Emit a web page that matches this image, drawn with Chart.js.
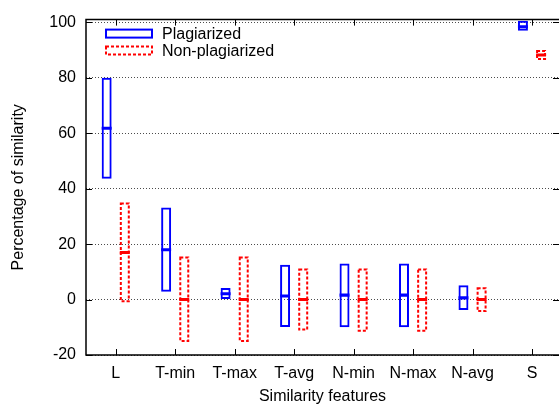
<!DOCTYPE html>
<html lang="en">
  <head>
    <meta charset="UTF-8" />
    <script src="https://cdn.jsdelivr.net/npm/chart.js@4.4.1/dist/chart.umd.min.js"></script>
    <title>Similarity features</title>
    <style>
      body { margin: 0; background: #fff; }
      #wrap { width: 559px; height: 408px; }
    </style>
  </head>
  <body>
    <div id="wrap"><canvas id="myChart"></canvas></div>

    <script>
      const features = ["L", "T-min", "T-max", "T-avg", "N-min", "N-max", "N-avg", "S"];
      const yTicks = [-20, 0, 20, 40, 60, 80, 100];

      // Plagiarized: box bottom, box top, median
      const plagLow = [43.6, 2.8, 0, -9.9, -10, -10, -3.8, 97];
      const plagHigh = [80, 33.2, 4.2, 12.6, 13, 13, 5.2, 100.6];
      const plagMed = [61.8, 18, 2.1, 1.3, 1.6, 1.6, 0.6, 98.4];

      // Non-plagiarized
      const nonLow = [-1, -15.3, -15.3, -11.2, -11.6, -11.6, -4.5, 86.4];
      const nonHigh = [35, 15.5, 15.5, 11.2, 11.2, 11.2, 4.4, 90];
      const nonMed = [17, 0, 0, 0, 0, 0, 0, 88.2];

      const BLUE = "#0000ff";
      const RED = "#ff0000";
      const FONT = "Liberation Sans, Arial, sans-serif";

      function boxes(lo, hi) {
        return features.map((f, i) => ({ x: i + 1, y: [lo[i], hi[i]] }));
      }
      function medians(m) {
        return features.map((f, i) => ({ x: i + 1, y: [m[i] - 0.55, m[i] + 0.55] }));
      }

      // dashed outline for the non-plagiarized boxes, frame, inward ticks, key
      const extras = {
        id: "extras",
        afterDatasetsDraw(chart) {
          const ctx = chart.ctx;
          const meta = chart.getDatasetMeta(1);
          ctx.save();
          ctx.strokeStyle = RED;
          ctx.lineWidth = 2;
          ctx.setLineDash([3, 2]);
          meta.data.forEach(el => {
            const p = el.getProps(["x", "y", "base", "width"], true);
            const top = Math.min(p.y, p.base);
            const h = Math.abs(p.base - p.y);
            ctx.strokeRect(p.x - p.width / 2 + 1, top + 1, p.width - 2, h - 2);
          });
          ctx.restore();
        },
        afterDraw(chart) {
          const ctx = chart.ctx;
          const a = chart.chartArea;
          const xs = chart.scales.x, ys = chart.scales.y;
          ctx.save();
          ctx.strokeStyle = "#000";
          ctx.lineWidth = 1.5;
          ctx.beginPath();
          ctx.moveTo(a.right + 2, a.top);
          ctx.lineTo(a.left, a.top);
          ctx.lineTo(a.left, a.bottom);
          ctx.lineTo(a.right + 2, a.bottom);
          ctx.stroke();
          ctx.lineWidth = 1;
          ctx.beginPath();
          xs.ticks.forEach(t => {
            const px = Math.round(xs.getPixelForValue(t.value)) + 0.5;
            ctx.moveTo(px, a.bottom); ctx.lineTo(px, a.bottom - 6);
            ctx.moveTo(px, a.top); ctx.lineTo(px, a.top + 6);
          });
          ys.ticks.forEach(t => {
            const py = Math.round(ys.getPixelForValue(t.value)) + 0.5;
            ctx.moveTo(a.left, py); ctx.lineTo(a.left + 6, py);
            ctx.moveTo(a.right, py); ctx.lineTo(a.right - 6, py);
          });
          ctx.stroke();

          // key
          const kx = a.left + 20;
          ctx.font = "16px " + FONT;
          ctx.textBaseline = "middle";
          ctx.fillStyle = "#000";
          [0, 1].forEach((d, row) => {
            const ds = chart.data.datasets[d];
            const cy = a.top + 14 + row * 17;
            ctx.strokeStyle = ds.borderColor;
            ctx.lineWidth = 2;
            ctx.setLineDash(d === 1 ? [3, 2] : []);
            ctx.strokeRect(kx, cy - 4, 46, 8);
            ctx.fillText(ds.label, kx + 56, cy + 1);
          });
          ctx.restore();
        }
      };

      Chart.defaults.font.family = FONT;
      Chart.defaults.font.size = 16;
      Chart.defaults.color = "#000";

      var myChart = document.getElementById("myChart").getContext("2d");
      var chart = new Chart(myChart, {
        type: "bar",
        data: {
          datasets: [
            {
              label: "Plagiarized",
              data: boxes(plagLow, plagHigh),
              stack: "p",
              backgroundColor: "transparent",
              borderColor: BLUE,
              borderWidth: 2,
              borderSkipped: false,
            },
            {
              label: "Non-plagiarized",
              data: boxes(nonLow, nonHigh),
              stack: "n",
              backgroundColor: "transparent",
              borderColor: RED,
              borderWidth: 0,
            },
            {
              label: "plag median",
              data: medians(plagMed),
              stack: "p",
              backgroundColor: BLUE,
              borderWidth: 0,
            },
            {
              label: "non median",
              data: medians(nonMed),
              stack: "n",
              backgroundColor: RED,
              borderWidth: 0,
            },
          ],
        },
        options: {
          responsive: true,
          maintainAspectRatio: false,
          animation: false,
          layout: { padding: { top: 7, right: 0, bottom: 0, left: 0 } },
          datasets: {
            bar: { categoryPercentage: 0.61, barPercentage: 0.55 },
          },
          plugins: {
            legend: { display: false },
            tooltip: { enabled: false },
          },
          scales: {
            x: {
              type: "linear",
              offset: false,
              stacked: true,
              min: 0.5,
              max: 8.454,
              afterBuildTicks: s => { s.ticks = features.map((f, i) => ({ value: i + 1 })); },
              afterFit: s => { s.height = 53; },
              grid: { display: false, drawTicks: false },
              border: { display: false },
              ticks: {
                padding: 9,
                maxRotation: 0,
                autoSkip: false,
                callback: v => features[v - 1],
              },
              title: {
                display: true,
                text: "Similarity features",
                padding: { top: 0, bottom: 2 },
              },
            },
            y: {
              stacked: false,
              min: -20,
              max: 101,
              afterBuildTicks: s => { s.ticks = yTicks.map(v => ({ value: v })); },
              afterFit: s => { s.width = 86; },
              grid: { color: "rgba(0,0,0,0.7)", lineWidth: 1, drawTicks: false },
              border: { display: false, dash: [1, 2] },
              ticks: { padding: 10 },
              title: {
                display: true,
                text: "Percentage of similarity",
                padding: { top: 9, bottom: 0 },
              },
            },
          },
        },
        plugins: [extras],
      });
    </script>
  </body>
</html>
